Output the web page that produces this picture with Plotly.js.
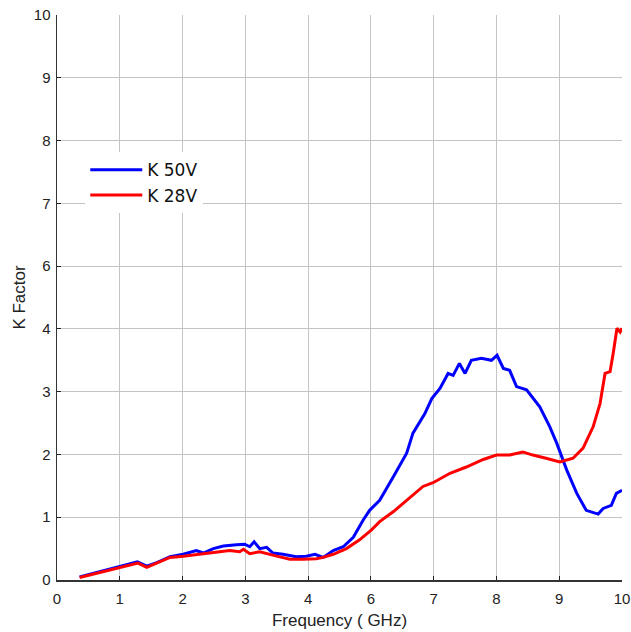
<!DOCTYPE html>
<html>
<head>
<meta charset="utf-8">
<script src="https://cdn.plot.ly/plotly-3.0.1.min.js"></script>
<style>html,body{margin:0;padding:0;background:#fff;}#chart{width:631px;height:632px;}</style>
</head>
<body>
<div id="chart"></div>
<script>
// Axis positions as drawn (the reference axes skip the label "5")
const tickPositions = [0, 1, 2, 3, 4, 5, 6, 7, 8, 9];
const tickLabels = ['0', '1', '2', '3', '4', '6', '7', '8', '9', '10'];

// K 50V (blue) — x and y in axis positions
const k50x = [0.36, 0.60, 0.95, 1.10, 1.28, 1.43, 1.60, 1.80, 2.01, 2.22, 2.33, 2.49, 2.65, 2.86, 2.99, 3.07, 3.14, 3.23, 3.34, 3.44, 3.60, 3.81, 3.97, 4.11, 4.24, 4.40, 4.56, 4.72, 4.88, 4.98, 5.14, 5.36, 5.57, 5.67, 5.86, 5.97, 6.10, 6.23, 6.31, 6.41, 6.50, 6.60, 6.76, 6.92, 7.01, 7.11, 7.21, 7.32, 7.48, 7.69, 7.85, 7.96, 8.12, 8.28, 8.43, 8.62, 8.70, 8.83, 8.91, 9.00];
const k50y = [0.05, 0.11, 0.20, 0.24, 0.29, 0.22, 0.28, 0.37, 0.41, 0.47, 0.43, 0.50, 0.54, 0.56, 0.57, 0.53, 0.61, 0.50, 0.52, 0.43, 0.41, 0.37, 0.38, 0.41, 0.36, 0.47, 0.53, 0.68, 0.96, 1.11, 1.27, 1.65, 2.02, 2.34, 2.65, 2.89, 3.05, 3.29, 3.26, 3.45, 3.29, 3.50, 3.53, 3.50, 3.58, 3.37, 3.34, 3.08, 3.03, 2.76, 2.44, 2.18, 1.75, 1.38, 1.11, 1.05, 1.14, 1.19, 1.38, 1.43];

// K 28V (red)
const k28x = [0.36, 0.60, 0.95, 1.10, 1.29, 1.43, 1.60, 1.80, 2.01, 2.28, 2.54, 2.75, 2.91, 2.97, 3.07, 3.23, 3.50, 3.71, 3.92, 4.13, 4.24, 4.40, 4.61, 4.82, 5.01, 5.14, 5.36, 5.57, 5.83, 5.99, 6.26, 6.52, 6.79, 7.00, 7.21, 7.42, 7.58, 7.79, 8.01, 8.22, 8.38, 8.54, 8.65, 8.73, 8.81, 8.86, 8.92, 8.97, 9.00];
const k28y = [0.04, 0.10, 0.19, 0.22, 0.27, 0.20, 0.27, 0.36, 0.38, 0.41, 0.45, 0.47, 0.45, 0.49, 0.42, 0.45, 0.38, 0.33, 0.33, 0.34, 0.36, 0.41, 0.50, 0.64, 0.80, 0.93, 1.09, 1.27, 1.49, 1.55, 1.70, 1.80, 1.92, 1.99, 1.99, 2.04, 1.99, 1.94, 1.88, 1.94, 2.10, 2.44, 2.81, 3.29, 3.32, 3.61, 4.01, 3.95, 4.01];

const axisFont = {family: 'Liberation Sans, Arial, sans-serif', size: 15, color: '#222'};

const traces = [
  {x: k50x, y: k50y, mode: 'lines', name: 'K 50V', line: {color: '#0000ff', width: 3}},
  {x: k28x, y: k28y, mode: 'lines', name: 'K 28V', line: {color: '#ff0000', width: 3}}
];

const layout = {
  width: 631, height: 632,
  margin: {l: 57, r: 9, t: 15, b: 52},
  paper_bgcolor: '#fff', plot_bgcolor: '#fff',
  showlegend: true,
  legend: {x: 0.05, y: 0.757, xanchor: 'left', yanchor: 'top', bgcolor: '#fff', borderwidth: 0,
           font: {family: 'DejaVu Sans, sans-serif', size: 17, color: '#111'}, itemwidth: 52, tracegroupgap: 0},
  xaxis: {
    range: [0, 9], tickvals: tickPositions, ticktext: tickLabels,
    showgrid: true, gridcolor: '#c4c4c4', gridwidth: 1,
    showline: true, linecolor: '#333', linewidth: 1.5, mirror: false,
    ticks: 'inside', ticklen: 4, tickcolor: '#222', zeroline: false,
    tickfont: axisFont, ticklabelstandoff: 4,
    title: {text: 'Frequency ( GHz)', font: {family: 'Liberation Sans, Arial, sans-serif', size: 17, color: '#222'}, standoff: 8}
  },
  yaxis: {
    range: [0, 9], tickvals: tickPositions, ticktext: tickLabels,
    showgrid: true, gridcolor: '#c4c4c4', gridwidth: 1,
    showline: true, linecolor: '#333', linewidth: 1.5, mirror: false,
    ticks: 'inside', ticklen: 4, tickcolor: '#222', zeroline: false,
    tickfont: axisFont, ticklabelstandoff: 2,
    title: {text: 'K Factor', font: {family: 'Liberation Sans, Arial, sans-serif', size: 17, color: '#222'}, standoff: 4}
  }
};

Plotly.newPlot('chart', traces, layout, {displayModeBar: false, staticPlot: true});
</script>
</body>
</html>
